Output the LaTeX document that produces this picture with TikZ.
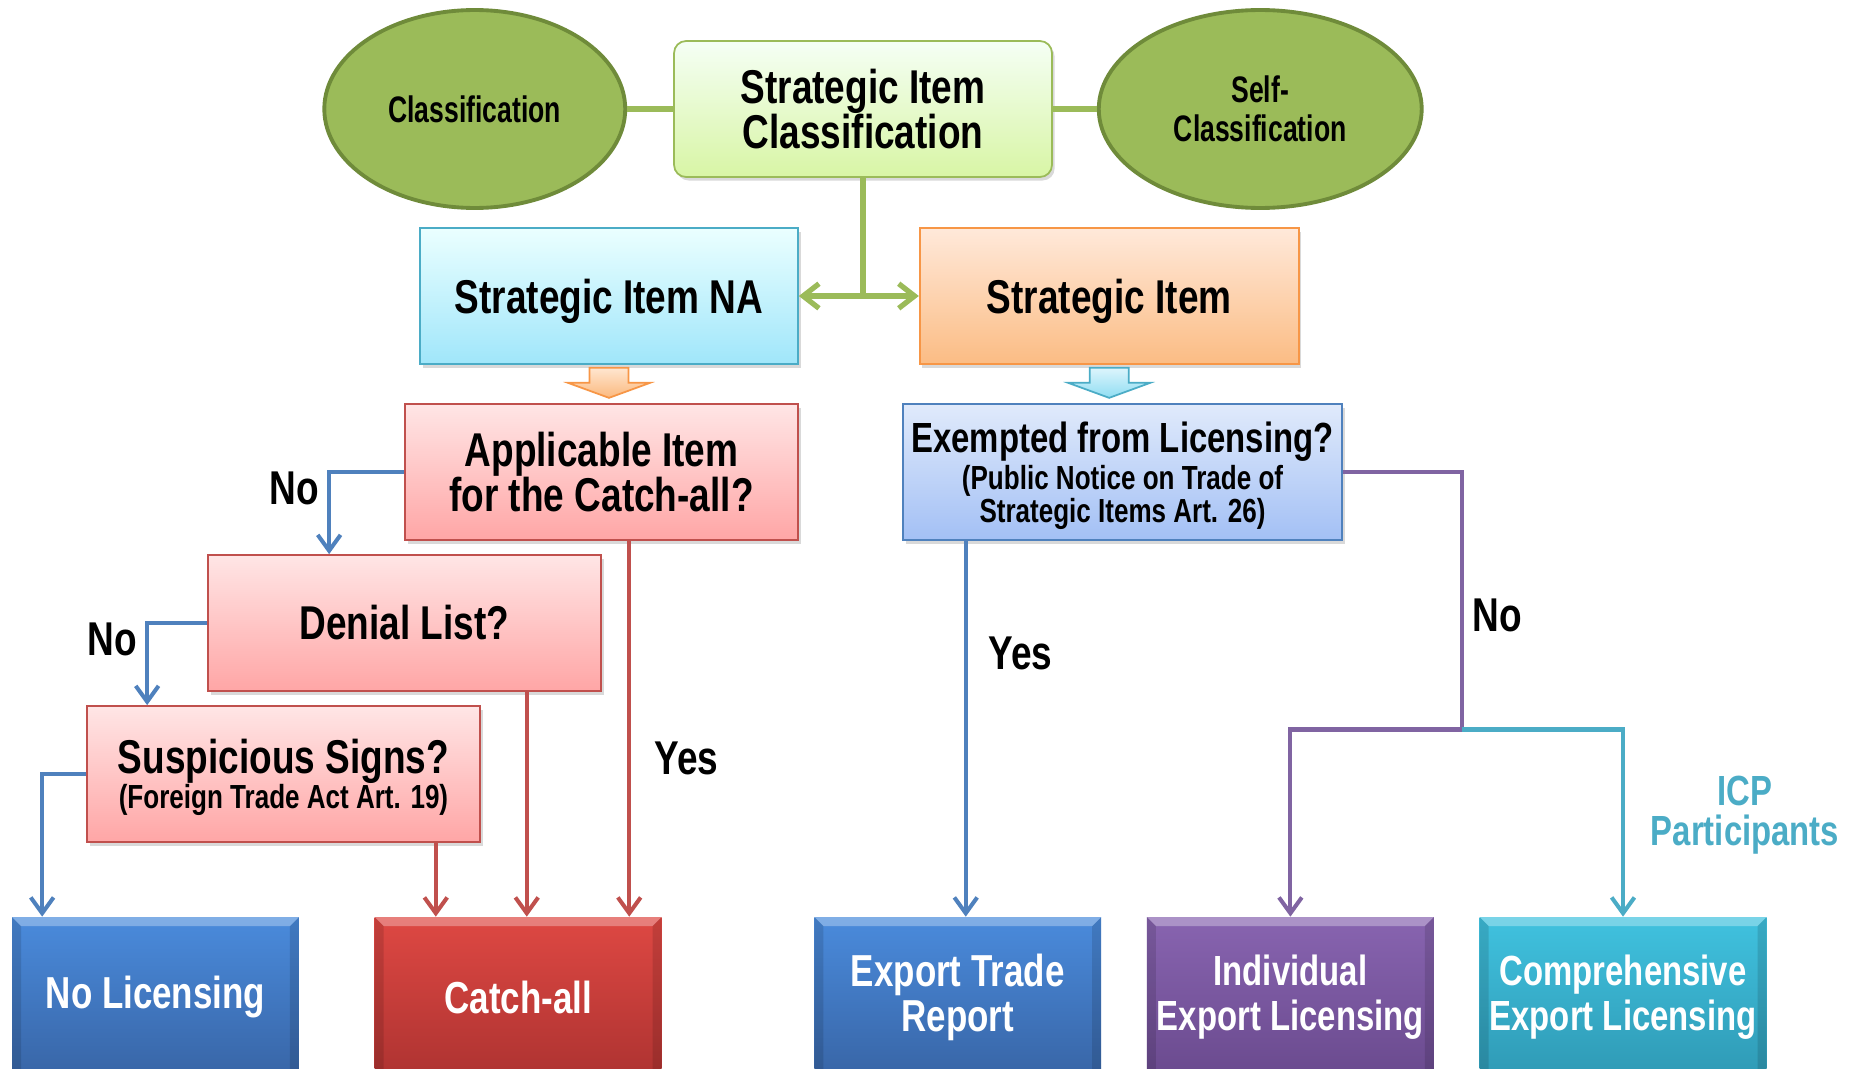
\documentclass[tikz,border=0pt]{standalone}
\usepackage{fontspec}
\setmainfont{Liberation Sans}[FakeStretch=0.78]
\newfontfamily\ovalfam{Liberation Sans}[FakeStretch=0.72]
\usetikzlibrary{positioning,arrows.meta,shapes.geometric,shadows}

\definecolor{grnfill}{HTML}{9BBB59}
\definecolor{grnedge}{HTML}{6F8B3A}
\definecolor{lnblue}{HTML}{4F81BD}
\definecolor{lnred}{HTML}{C0504D}
\definecolor{lnpurple}{HTML}{8064A2}
\definecolor{lncyan}{HTML}{4BACC6}
\definecolor{lnorange}{HTML}{F79646}

\newcommand\boxfont{\fontsize{27}{25.6}\selectfont\bfseries}
\newcommand\subfont{\fontsize{19}{17.6}\selectfont\bfseries}
\newcommand\ovalfont{\ovalfam\fontsize{21}{22}\selectfont\bfseries}
\newcommand\resfont{\fontsize{25.5}{25.6}\selectfont\bfseries}

\tikzset{
  oval/.style={
    ellipse,
    draw=grnedge,
    line width=2.2pt,
    fill=grnfill,
    minimum height=3.96cm,
    align=center,
    font=\ovalfont
  },
  block/.style={
    draw,
    rectangle,
    line width=1pt,
    minimum height=2.72cm,
    align=center,
    font=\boxfont,
    drop shadow={shadow xshift=1.5pt, shadow yshift=-2pt, opacity=0.3}
  },
  redblock/.style={
    block,
    draw=lnred,
    top color=red!10!white,
    bottom color=red!35!white,
    minimum width=7.86cm
  },
  result/.style={
    rectangle,
    minimum height=3.2cm,
    minimum width=5.74cm,
    inner xsep=0pt,
    text=white,
    align=center,
    font=\resfont,
    bevel
  },
  bevel/.style={path picture={
      \fill[white,opacity=.3] (path picture bounding box.north west) -- (path picture bounding box.north east)
        -- ([shift={(-.18cm,-.18cm)}]path picture bounding box.north east) -- ([shift={(.18cm,-.18cm)}]path picture bounding box.north west) -- cycle;
      \fill[black,opacity=.12] (path picture bounding box.north west) -- ([shift={(.18cm,-.18cm)}]path picture bounding box.north west)
        -- ([xshift=.18cm]path picture bounding box.south west) -- (path picture bounding box.south west) -- cycle;
      \fill[black,opacity=.12] (path picture bounding box.north east) -- ([shift={(-.18cm,-.18cm)}]path picture bounding box.north east)
        -- ([xshift=-.18cm]path picture bounding box.south east) -- (path picture bounding box.south east) -- cycle;
    }
  },
  link/.style={line width=2.3pt, -{Straight Barb[length=9pt,width=13pt]}},
  glink/.style={line width=3pt, grnfill},
  lbl/.style={font=\boxfont},
  icp/.style={font=\fontsize{24}{22.5}\selectfont\bfseries, text=lncyan, align=center}
}

\begin{document}
\begin{tikzpicture}[x=0.02cm,y=-0.02cm]

				\useasboundingbox (0,0) rectangle (1851,1068);

				\node[block, draw=grnfill, rounded corners=0.24cm, top color=green!4!white, bottom color={rgb,255:red,216;green,245;blue,165},
					minimum width=7.56cm] (sic) at (863,109) {Strategic Item\\Classification};
				\node[oval, minimum width=6.02cm, left = 0.92cm of sic] (cls) {Classification};
				\node[oval, minimum width=6.46cm, right = 0.88cm of sic] (self) {Self-\\Classification};
				\draw[glink] (cls) -- (sic) ;
				\draw[glink] (sic) -- (self) ;

				\node[block, draw=lncyan, top color=cyan!8!white, bottom color={rgb,255:red,160;green,230;blue,250},
					minimum width=7.56cm, text depth=0pt] (sina) at (609,296) {Strategic Item NA};
				\node[block, draw=lnorange, top color={rgb,255:red,255;green,233;blue,218}, bottom color={rgb,255:red,251;green,188;blue,132},
					minimum width=7.58cm, text depth=0pt, right = 2.4cm of sina] (si) {Strategic Item};

				\coordinate (gj) at (sic.south |- sina.east);
				\draw[glink] (sic.south) -- (gj) ;
				\draw[glink, -{Straight Barb[length=9pt,width=14pt]}] (gj) -- (sina.east) ;
				\draw[glink, -{Straight Barb[length=9pt,width=14pt]}] (gj) -- (si.west) ;

				\path[draw=lnorange, line width=1pt, top color={rgb,255:red,255;green,230;blue,208}, bottom color={rgb,255:red,251;green,185;blue,126}]
					([yshift=-1.7pt]sina.south) ++(-19.5,0) -- ++(39,0) -- ++(0,15) -- ++(21.5,0) -- ++(-41,15) -- ++(-41,-15) -- ++(21.5,0) -- cycle;
				\path[draw=lncyan, line width=1pt, top color={rgb,255:red,221;green,245;blue,252}, bottom color={rgb,255:red,143;green,221;blue,242}]
					([yshift=-1.7pt]si.south) ++(-19.5,0) -- ++(39,0) -- ++(0,15) -- ++(21.5,0) -- ++(-41,15) -- ++(-41,-15) -- ++(21.5,0) -- cycle;

				\node[redblock] (app) at (601.5,472) {Applicable Item\\for the Catch-all?};
				\node[block, draw=lnblue, top color={rgb,255:red,224;green,234;blue,251}, bottom color={rgb,255:red,163;green,192;blue,245},
					minimum width=8.78cm, text depth=0pt, font=\fontsize{24}{15.6}\selectfont\bfseries] (exm) at (1122.5,472)
					{Exempted from Licensing?\\[1.5pt]\subfont (Public Notice on Trade of\\\subfont Strategic Items Art. 26)};
				\node[redblock] (den) at (404.5,623) {Denial List?};
				\node[redblock, text depth=0pt, font=\fontsize{27}{20}\selectfont\bfseries] (sus) at (283.5,774) {Suspicious Signs?\\\subfont (Foreign Trade Act Art. 19)};

				\node[result, top color={rgb,255:red,74;green,139;blue,220}, bottom color={rgb,255:red,56;green,101;blue,166}] (nolic) at (155.5,997) {No Licensing};
				\node[result, top color={rgb,255:red,222;green,72;blue,67}, bottom color={rgb,255:red,174;green,51;blue,49}, right = 1.5cm of nolic] (catch) {Catch-all};
				\node[result, top color={rgb,255:red,74;green,139;blue,220}, bottom color={rgb,255:red,56;green,101;blue,166}, right = 3.04cm of catch] (etr) {Export Trade\\Report};
				\node[result, top color={rgb,255:red,136;green,100;blue,176}, bottom color={rgb,255:red,106;green,74;blue,142}, font=\fontsize{24}{25.6}\selectfont\bfseries,
					right = 0.9cm of etr] (ind) {Individual\\Export Licensing};
				\node[result, top color={rgb,255:red,64;green,194;blue,223}, bottom color={rgb,255:red,47;green,154;blue,181}, font=\fontsize{24}{25.6}\selectfont\bfseries,
					right = 0.9cm of ind] (comp) {Comprehensive\\Export Licensing};

				\draw[link, lnblue] (app.west) -| ([xshift=2.44cm]den.north west) node [pos=0.6, left=0.05cm, lbl, text=black] {No};
				\draw[link, lnblue] (den.west) -| ([xshift=1.22cm]sus.north west) node [pos=0.6, left=0.05cm, lbl, text=black] {No};
				\draw[link, lnblue] (sus.west) -| ([xshift=0.61cm]nolic.north west) ;

				\coordinate (c1) at ([xshift=1.23cm]catch.north west);
				\coordinate (c2) at ([xshift=3.05cm]catch.north west);
				\coordinate (c3) at ([xshift=5.1cm]catch.north west);
				\draw[link, lnred] (sus.south -| c1) -- (c1) ;
				\draw[link, lnred] (den.south -| c2) -- (c2) ;
				\draw[link, lnred] (app.south -| c3) -- (c3) node [pos=0.58, right=0.35cm, lbl, text=black] {Yes};

				\coordinate (e1) at ([xshift=0.16cm]etr.north);
				\draw[link, lnblue] (exm.south -| e1) -- (e1) node [pos=0.3, right=0.3cm, lbl, text=black] {Yes};

				\coordinate (pj) at (1461.5,729.5);
				\draw[link, lnpurple] (exm.east) -| (pj) -| (ind.north) ;
				\draw[link, lncyan] (pj) -| (comp.north) ;
				\node[lbl] (nolbl) at (1497,615) {No};
				\node[icp] (icplbl) at (1745,815) {ICP\\Participants};

\end{tikzpicture}
\end{document}
